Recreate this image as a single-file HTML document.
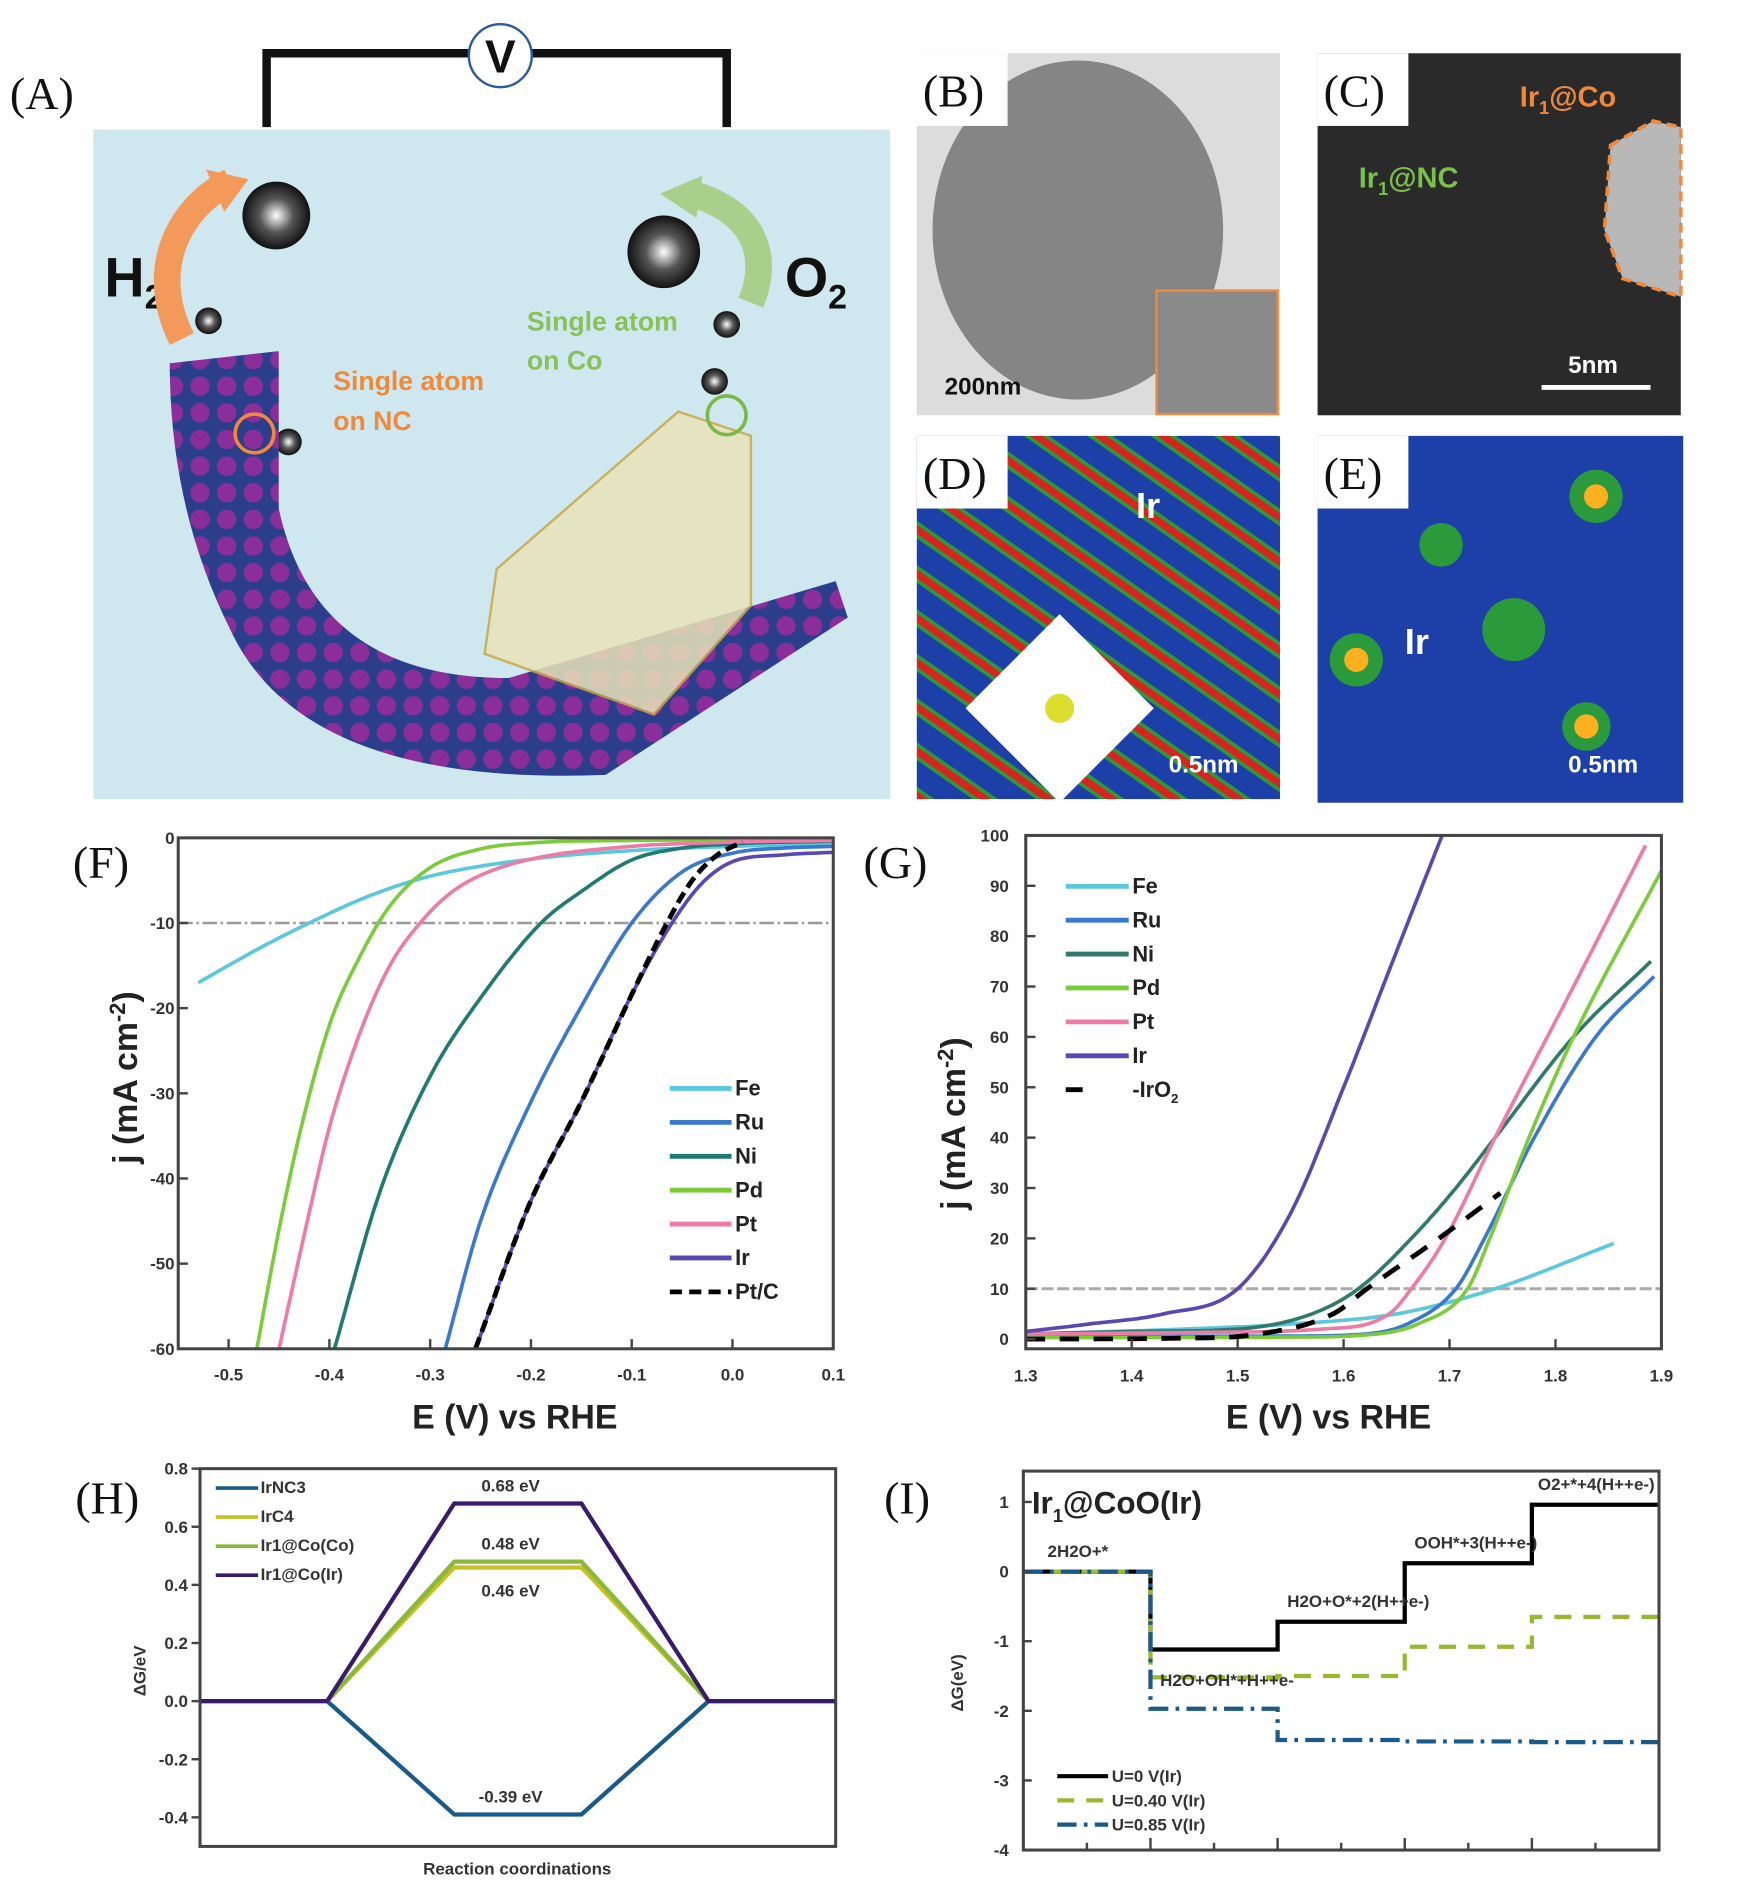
<!DOCTYPE html>
<html><head><meta charset="utf-8"><style>
html,body{margin:0;padding:0;background:#fff;}
svg{display:block;}
text{font-family:"Liberation Sans",sans-serif;}
.lab{font-family:"Liberation Serif",serif;font-size:38px;fill:#111;}
.tk{font-size:14px;font-weight:bold;fill:#333;}
.tt{font-size:28px;font-weight:bold;fill:#222;}
.lg{font-size:18px;font-weight:bold;fill:#222;}
</style></head><body>
<svg id="fig" width="1744" height="1890" viewBox="0 0 1440 1561" xmlns="http://www.w3.org/2000/svg">
<defs>
 <pattern id="stripes" width="30" height="30" patternUnits="userSpaceOnUse" patternTransform="rotate(35)">
  <rect width="30" height="30" fill="#1c3fa8"/>
  <rect y="8" width="30" height="12" fill="#2a9a3a"/>
  <rect y="11" width="30" height="6" fill="#d8231f"/>
 </pattern>
 <pattern id="sheet" width="22" height="22" patternUnits="userSpaceOnUse">
  <rect width="22" height="22" fill="#2a3e8c"/>
  <circle cx="11" cy="11" r="8" fill="#8a2e9a"/>
 </pattern>
 <radialGradient id="ball"><stop offset="0" stop-color="#fff"/><stop offset="0.5" stop-color="#555"/><stop offset="1" stop-color="#111"/></radialGradient>
</defs>

<g>
 <text class="lab" x="8" y="90">(A)</text>
 <rect x="77" y="107" width="658" height="553" fill="#cfe7ee"/>
 <path d="M220 105 V44 H600 V105" fill="none" stroke="#111" stroke-width="7"/>
 <circle cx="413" cy="46" r="26" fill="#fff" stroke="#2a5a9a" stroke-width="2"/>
 <text x="413" y="60" text-anchor="middle" font-size="38" font-weight="bold" fill="#111">V</text>
 <text x="86" y="245" font-size="46" font-weight="bold" fill="#111">H<tspan font-size="28" dy="10">2</tspan></text>
 <text x="648" y="245" font-size="46" font-weight="bold" fill="#111">O<tspan font-size="28" dy="10">2</tspan></text>
 <path d="M150 280 C120 220 150 170 190 150" fill="none" stroke="#f39a5a" stroke-width="22"/>
 <polygon points="170,140 205,148 185,175" fill="#f39a5a"/>
 <path d="M620 250 C640 200 610 170 570 160" fill="none" stroke="#a8d08a" stroke-width="22"/>
 <polygon points="580,145 545,160 575,180" fill="#a8d08a"/>
 <circle cx="228" cy="178" r="28" fill="url(#ball)"/>
 <circle cx="548" cy="208" r="30" fill="url(#ball)"/>
 <circle cx="172" cy="265" r="11" fill="url(#ball)"/>
 <circle cx="600" cy="268" r="11" fill="url(#ball)"/>
 <circle cx="238" cy="365" r="11" fill="url(#ball)"/>
 <circle cx="590" cy="315" r="11" fill="url(#ball)"/>
 <path d="M140 300 L230 290 L230 420 Q260 560 420 560 L690 480 L700 510 L500 640 Q250 650 190 520 Q140 420 140 300 Z" fill="url(#sheet)"/>
 <path d="M410 470 L560 340 L620 360 L620 500 L540 590 L400 540 Z" fill="#e8e4b8" stroke="#c9a84a" stroke-width="2" opacity="0.85"/>
 <circle cx="210" cy="358" r="16" fill="none" stroke="#f08a3a" stroke-width="3"/>
 <circle cx="600" cy="343" r="16" fill="none" stroke="#7ab84a" stroke-width="3"/>
 <text x="275" y="322" font-size="22" font-weight="bold" fill="#f08a3a">Single atom</text>
 <text x="275" y="355" font-size="22" font-weight="bold" fill="#f08a3a">on NC</text>
 <text x="435" y="273" font-size="22" font-weight="bold" fill="#8ac05a">Single atom</text>
 <text x="435" y="305" font-size="22" font-weight="bold" fill="#8ac05a">on Co</text>
</g>

<g>
 <rect x="757" y="44" width="300" height="299" fill="#dcdcdc"/>
 <ellipse cx="890" cy="190" rx="120" ry="140" fill="#6f6f6f" opacity="0.8"/>
 <rect x="955" y="240" width="100" height="102" fill="#8a8a8a" stroke="#f08a3a" stroke-width="2"/>
 <rect x="757" y="44" width="75" height="60" fill="#fff"/>
 <text class="lab" x="762" y="88">(B)</text>
 <text x="780" y="326" font-family="Liberation Serif" font-size="20" font-weight="bold" fill="#111">200nm</text>
</g>
<g>
 <rect x="1088" y="44" width="300" height="299" fill="#2a2a2a"/>
 <path d="M1330 120 L1365 100 L1388 105 L1388 245 L1340 230 L1325 190 Z" fill="#b8b8b8" stroke="#f08a3a" stroke-width="3" stroke-dasharray="8 5"/>
 <rect x="1088" y="44" width="75" height="60" fill="#fff"/>
 <text class="lab" x="1093" y="88">(C)</text>
 <text x="1255" y="88" font-size="24" font-weight="bold" fill="#f08a3a">Ir<tspan font-size="15" dy="6">1</tspan><tspan dy="-6">@Co</tspan></text>
 <text x="1122" y="155" font-size="24" font-weight="bold" fill="#7ac04a">Ir<tspan font-size="15" dy="6">1</tspan><tspan dy="-6">@NC</tspan></text>
 <text x="1295" y="308" font-family="Liberation Serif" font-size="20" font-weight="bold" fill="#fff">5nm</text>
 <rect x="1273" y="318" width="90" height="4" fill="#fff"/>
</g>
<g>
 <rect x="757" y="360" width="300" height="300" fill="url(#stripes)"/>
 <rect x="820" y="530" width="110" height="110" fill="#fff" transform="rotate(45 875 585)"/>
 <circle cx="875" cy="585" r="12" fill="#dddd30"/>
 <rect x="757" y="360" width="75" height="60" fill="#fff"/>
 <text class="lab" x="762" y="404">(D)</text>
 <text x="938" y="428" font-size="30" font-weight="bold" fill="#fff">Ir</text>
 <text x="965" y="638" font-family="Liberation Serif" font-size="20" font-weight="bold" fill="#fff">0.5nm</text>
</g>
<g>
 <rect x="1088" y="360" width="302" height="303" fill="#1c3fa8"/>
 <circle cx="1318" cy="410" r="22" fill="#2a9a3a"/><circle cx="1318" cy="410" r="10" fill="#ffb020"/>
 <circle cx="1120" cy="545" r="22" fill="#2a9a3a"/><circle cx="1120" cy="545" r="10" fill="#ffb020"/>
 <circle cx="1310" cy="600" r="20" fill="#2a9a3a"/><circle cx="1310" cy="600" r="10" fill="#ffb020"/>
 <circle cx="1250" cy="520" r="26" fill="#2a9a3a"/><circle cx="1190" cy="450" r="18" fill="#2a9a3a"/>
 <rect x="1088" y="360" width="75" height="60" fill="#fff"/>
 <text class="lab" x="1093" y="404">(E)</text>
 <text x="1160" y="540" font-size="30" font-weight="bold" fill="#fff">Ir</text>
 <text x="1295" y="638" font-family="Liberation Serif" font-size="20" font-weight="bold" fill="#fff">0.5nm</text>
</g>

<text class="lab" x="60" y="725">(F)</text>
<text class="lab" x="713" y="725">(G)</text>
<text class="lab" x="62" y="1250">(H)</text>
<text class="lab" x="730" y="1250">(I)</text>
<g id="charts"></g>
</svg>
<script>
// ---- Panel F data (HER) ----
const fSeries = ["Fe","Ru","Ni","Pd","Pt","Ir","Pt/C"];
const fColors = ["#5cc8dc","#3a78d0","#1f7a72","#7ccc3a","#ee7aa8","#5a48b0","#000"];
const fE = [
 [-0.53,-0.47,-0.42,-0.36,-0.3,-0.2,-0.1,0.0,0.1],
 [-0.285,-0.25,-0.2,-0.15,-0.1,-0.05,0.0,0.05,0.1],
 [-0.395,-0.35,-0.3,-0.25,-0.19,-0.15,-0.1,-0.05,0.0,0.1],
 [-0.472,-0.45,-0.43,-0.4,-0.37,-0.34,-0.3,-0.25,-0.2,-0.1,0.1],
 [-0.45,-0.42,-0.4,-0.37,-0.34,-0.31,-0.28,-0.25,-0.2,-0.1,0.0,0.1],
 [-0.255,-0.2,-0.15,-0.1,-0.06,-0.03,0.0,0.05,0.1],
 [-0.255,-0.2,-0.15,-0.1,-0.065,-0.04,-0.015,0.01]
];
const fJ = [
 [-17,-13,-10,-6.8,-4.5,-2.5,-1.5,-1,-0.7],
 [-60,-45,-31,-19.8,-10,-4,-1.8,-1.2,-1],
 [-60,-41.6,-28,-18.8,-10,-6.3,-2.6,-1.2,-0.7,-0.4],
 [-60,-46,-35,-22,-14,-8,-3.5,-1.3,-0.6,-0.3,-0.2],
 [-60,-44,-34,-23,-15,-10,-6.5,-4.4,-2.5,-1,-0.5,-0.3],
 [-60,-42.6,-31,-18.4,-10,-5.3,-2.8,-2,-1.7],
 [-60,-42.6,-31,-18.4,-10,-5,-2,-0.5]
];
const fXTicks = [-0.5,-0.4,-0.3,-0.2,-0.1,0.0,0.1];
const fYTicks = [0,-10,-20,-30,-40,-50,-60];
// ---- Panel G data (OER) ----
const gSeries = ["Fe","Ru","Ni","Pd","Pt","Ir","IrO2"];
const gColors = ["#5cc8dc","#3a78d0","#2f7a6a","#7ccc3a","#ee7aa8","#5a48b0","#000"];
const gE = [
 [1.3,1.45,1.55,1.65,1.743,1.855],
 [1.3,1.55,1.62,1.66,1.706,1.733,1.78,1.838,1.893],
 [1.3,1.4,1.5,1.57,1.614,1.664,1.706,1.743,1.817,1.89],
 [1.3,1.55,1.62,1.67,1.717,1.738,1.775,1.817,1.9],
 [1.3,1.45,1.58,1.643,1.664,1.696,1.743,1.817,1.885],
 [1.3,1.36,1.43,1.5,1.55,1.6,1.65,1.693],
 [1.3,1.45,1.52,1.59,1.622,1.69,1.748]
];
const gJ = [
 [1,2,3,5,10,19],
 [0.5,0.6,1,3,10,20,40,60,72],
 [1,1.5,2,5,10,20,30,40,60,75],
 [0.3,0.4,0.8,3,10,20,40,60,93],
 [1,1.3,2,5,10,20,40,70,98],
 [1.5,3,5,10,25,50,77,100],
 [0,0.2,1,5,10,20,29]
];
const gXTicks = [1.3,1.4,1.5,1.6,1.7,1.8,1.9];
const gYTicks = [0,10,20,30,40,50,60,70,80,90,100];
// ---- Panel H data ----
const hSeries = ["IrNC3","IrC4","Ir1@Co(Co)","Ir1@Co(Ir)"];
const hColors = ["#1a5a8a","#c8c020","#8ab83a","#3a1a6a"];
const hBarrier = [-0.39,0.46,0.48,0.68];
const hYTicks = [0.8,0.6,0.4,0.2,0.0,-0.2,-0.4];
// ---- Panel I data ----
const iSeries = ["U=0 V(Ir)","U=0.40 V(Ir)","U=0.85 V(Ir)"];
const iColors = ["#000","#98b830","#1a5a8a"];
const iLevels = [
 [0,-1.12,-0.72,0.12,0.96],
 [0,-1.52,-1.5,-1.08,-0.65],
 [0,-1.97,-2.42,-2.44,-2.45]
];
const iYTicks = [1,0,-1,-2,-3,-4];
const iStepLabels = ["2H2O+*","H2O+OH*+H++e-","H2O+O*+2(H++e-)","OOH*+3(H++e-)","O2+*+4(H++e-)"];

const NS="http://www.w3.org/2000/svg";
const root=document.getElementById('charts');
function mk(tag,attrs,parent){const e=document.createElementNS(NS,tag);for(const k in attrs)e.setAttribute(k,attrs[k]);(parent||root).appendChild(e);return e;}
function lin(d0,d1,r0,r1){return v=>r0+(v-d0)*(r1-r0)/(d1-d0);}
function monoPath(xs,ys,sx,sy){
 const n=xs.length,dl=[],m=[];
 for(let i=0;i<n-1;i++)dl.push((ys[i+1]-ys[i])/(xs[i+1]-xs[i]));
 m[0]=dl[0];m[n-1]=dl[n-2];
 for(let i=1;i<n-1;i++){m[i]=(dl[i-1]*dl[i]<=0)?0:(dl[i-1]+dl[i])/2;}
 for(let i=0;i<n-1;i++){
  if(dl[i]===0){m[i]=0;m[i+1]=0;continue;}
  const a=m[i]/dl[i],b=m[i+1]/dl[i],s=a*a+b*b;
  if(s>9){const t=3/Math.sqrt(s);m[i]=t*a*dl[i];m[i+1]=t*b*dl[i];}
 }
 let d='';
 for(let i=0;i<n-1;i++){
  const h=xs[i+1]-xs[i];
  for(let k=(i==0?0:1);k<=20;k++){
   const t=k/20,t2=t*t,t3=t2*t;
   const v=(2*t3-3*t2+1)*ys[i]+(t3-2*t2+t)*h*m[i]+(-2*t3+3*t2)*ys[i+1]+(t3-t2)*h*m[i+1];
   const xv=xs[i]+t*h;
   d+=(d?'L':'M')+sx(xv).toFixed(1)+' '+sy(v).toFixed(1)+' ';
  }
 }
 return d;
}
function txt(x,y,s,cls,anchor,parent){const t=mk('text',{x:x,y:y,class:cls,'text-anchor':anchor||'start'},parent);t.textContent=s;return t;}

// ===== Panel F =====
(function(){
 const g=mk('g',{});
 
 
 const x=lin(-0.55,0.1,147,688), y=lin(0,-60,692,1114);
 const gl=mk('line',{x1:147,x2:688,y1:y(-10),y2:y(-10),stroke:'#999','stroke-width':2,'stroke-dasharray':'12 3 2 3'},g);
 
 
 fSeries.forEach((s,i)=>{
  const p=mk('path',{d:monoPath(fE[i],fJ[i],x,y),fill:'none',stroke:fColors[i],'stroke-width':i==6?4:3,'stroke-dasharray':i==6?'10 5':'none'},g);
  
  
 });
 const ax=mk('rect',{x:147,y:692,width:541,height:422,fill:'none',stroke:'#444','stroke-width':2.5},g);
 
 
 fXTicks.forEach(v=>{mk('line',{x1:x(v),x2:x(v),y1:1114,y2:1106,stroke:'#444','stroke-width':2},g);
  const t=txt(x(v),1140,v.toFixed(1),'tk','middle',g);
  
  });
 fYTicks.forEach(v=>{mk('line',{x1:147,x2:155,y1:y(v),y2:y(v),stroke:'#444','stroke-width':2},g);
  const t=txt(144,y(v)+5,String(v),'tk','end',g);
  
  });
 const xt=txt(425,1180,'E (V) vs RHE','tt','middle',g);
 
 
 const yt=mk('text',{x:0,y:0,class:'tt','text-anchor':'middle',transform:'translate(113,890) rotate(-90)'},g);
 yt.innerHTML='j (mA cm<tspan font-size="18" dy="-10">-2</tspan><tspan dy="10">)</tspan>';
 
 
 fSeries.forEach((s,i)=>{const yy=905+i*28;
  mk('line',{x1:553,x2:604,y1:yy-6,y2:yy-6,stroke:fColors[i],'stroke-width':4,'stroke-dasharray':i==6?'10 6':'none'},g);
  const t=txt(607,yy,s,'lg','start',g);
  
  });
})();

// ===== Panel G =====
(function(){
 const g=mk('g',{});
 
 
 const x=lin(1.3,1.9,847,1372), y=lin(0,100,1106,690);
 const gl=mk('line',{x1:847,x2:1372,y1:y(10),y2:y(10),stroke:'#aaa','stroke-width':2.5,'stroke-dasharray':'10 3'},g);
 
 
 gSeries.forEach((s,i)=>{
  const p=mk('path',{d:monoPath(gE[i],gJ[i],x,y),fill:'none',stroke:gColors[i],'stroke-width':i==6?4:3,'stroke-dasharray':i==6?'16 12':'none'},g);
  
  
 });
 const ax=mk('rect',{x:847,y:690,width:525,height:424,fill:'none',stroke:'#444','stroke-width':2.5},g);
 
 
 gXTicks.forEach(v=>{mk('line',{x1:x(v),x2:x(v),y1:1114,y2:1106,stroke:'#444','stroke-width':2},g);
  const t=txt(x(v),1141,v.toFixed(1),'tk','middle',g);
  
  });
 gYTicks.forEach(v=>{mk('line',{x1:847,x2:855,y1:y(v),y2:y(v),stroke:'#444','stroke-width':2},g);
  const t=txt(833,y(v)+5,String(v),'tk','end',g);
  
  });
 const xt=txt(1097,1180,'E (V) vs RHE','tt','middle',g);
 
 
 const yt=mk('text',{x:0,y:0,class:'tt','text-anchor':'middle',transform:'translate(797,928) rotate(-90)'},g);
 yt.innerHTML='j (mA cm<tspan font-size="18" dy="-10">-2</tspan><tspan dy="10">)</tspan>';
 
 
 gSeries.forEach((s,i)=>{const yy=738+i*28;
  mk('line',{x1:880,x2:932,y1:yy-6,y2:yy-6,stroke:gColors[i],'stroke-width':4,'stroke-dasharray':i==6?'14 38':'none'},g);
  const t=txt(935,yy,i==6?'-IrO':s,'lg','start',g);
  if(i==6){const sub=mk('tspan',{'font-size':11,dy:5},t);sub.textContent='2';}
  
  });
})();

// ===== Panel H =====
(function(){
 const g=mk('g',{});
 
 
 const x=lin(0,5,165,690), y=lin(0,0.8,1405,1213);
 [0,1,2,3].forEach(i=>{
  const v=hBarrier[i];
  const pts=[[0,0],[1,0],[2,v],[3,v],[4,0],[5,0]].map(p=>x(p[0])+','+y(p[1])).join(' ');
  const p=mk('polyline',{points:pts,fill:'none',stroke:hColors[i],'stroke-width':3.5},g);
  
  
 });
 const lbl=[[0.68,-10],[0.48,-10],[0.46,24],[-0.39,-10]];
 lbl.forEach(l=>{const t=txt(x(2.5)-6,y(l[0])+l[1],l[0].toFixed(2)+' eV','tk','middle',g);
  t.setAttribute('font-size','17');
  
  });
 const ax=mk('rect',{x:165,y:1213,width:525,height:312,fill:'none',stroke:'#444','stroke-width':2.5},g);
 
 
 hYTicks.forEach(v=>{mk('line',{x1:158,x2:165,y1:y(v),y2:y(v),stroke:'#444','stroke-width':2},g);
  const t=txt(155,y(v)+5,v.toFixed(1),'tk','end',g);
  
  });
 const xt=txt(427,1548,'Reaction coordinations','tk','middle',g);
 
 
 const yt=mk('text',{x:0,y:0,class:'tk','text-anchor':'middle',transform:'translate(120,1380) rotate(-90)'},g);
 yt.textContent='ΔG/eV';
 
 
 hSeries.forEach((s,i)=>{const yy=1233+i*24;
  mk('line',{x1:178,x2:213,y1:yy-4,y2:yy-4,stroke:hColors[i],'stroke-width':3},g);
  const t=txt(215,yy,s,'tk','start',g);
  t.setAttribute('font-size','12');
  
  });
})();

// ===== Panel I =====
(function(){
 const g=mk('g',{});
 
 
 const x=lin(0,5,845,1370), y=lin(0,-4,1298,1528);
 const dashes=['none','14 10','16 6 3 6'];
 iLevels.forEach((lv,i)=>{
  let d='';
  lv.forEach((v,k)=>{d+=(k==0?'M':'L')+x(k)+' '+y(v)+' L'+x(k+1)+' '+y(v)+' ';});
  const p=mk('path',{d:d,fill:'none',stroke:iColors[i],'stroke-width':3.5,'stroke-dasharray':dashes[i]},g);
  
  
 });
 iStepLabels.forEach((s,k)=>{
  const v=iLevels[0][k];
  const t=txt(x(k)+(k==0?20:k==4?5:8),y(v)-(k==1?-30:12),s,'tk','start',g);
  t.setAttribute('font-size','10');
  
  
 });
 const ax=mk('rect',{x:845,y:1215,width:525,height:313,fill:'none',stroke:'#444','stroke-width':2.5},g);
 
 
 for(let k=0;k<=10;k++){mk('line',{x1:x(k/2),x2:x(k/2),y1:1528,y2:k%2?1522:1518,stroke:'#444','stroke-width':2},g);}
 iYTicks.forEach(v=>{mk('line',{x1:845,x2:852,y1:y(v),y2:y(v),stroke:'#444','stroke-width':2},g);
  const t=txt(833,y(v)+5,String(v),'tk','end',g);
  
  });
 const yt=mk('text',{x:0,y:0,class:'tk','text-anchor':'middle',transform:'translate(795,1390) rotate(-90)'},g);
 yt.textContent='ΔG(eV)';
 yt.setAttribute('font-size','17');
 
 
 const tt=mk('text',{x:852,y:1250,'font-size':26,'font-weight':'bold',fill:'#222'},g);
 tt.innerHTML='Ir<tspan font-size="15" dy="7">1</tspan><tspan dy="-7">@CoO(Ir)</tspan>';
 
 
 iSeries.forEach((s,i)=>{const yy=1472+i*20;
  mk('line',{x1:873,x2:915,y1:yy-5,y2:yy-5,stroke:iColors[i],'stroke-width':3.5,'stroke-dasharray':dashes[i]},g);
  const t=txt(918,yy,s,'tk','start',g);
  
  });
})();
</script>
</body></html>
